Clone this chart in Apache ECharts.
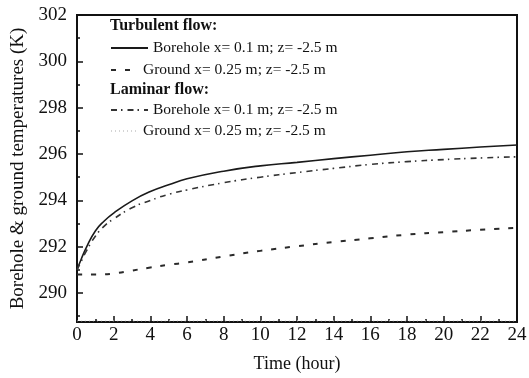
<!DOCTYPE html>
<html><head><meta charset="utf-8">
<script src="https://cdn.jsdelivr.net/npm/echarts@6/dist/echarts.min.js"></script>
<style>html,body{margin:0;padding:0;background:#fff}#c{width:529px;height:378px}</style>
</head><body><div id="c"></div>
<script>
const times = [0, 0.25, 0.5, 1, 1.5, 2, 3, 4, 5, 6, 8, 10, 12, 14, 16, 18, 20, 22, 24];
const turbBorehole = [291.0, 291.5, 291.95, 292.68, 293.12, 293.45, 293.98, 294.38, 294.67, 294.93, 295.26, 295.49, 295.64, 295.8, 295.95, 296.1, 296.2, 296.3, 296.39];
const turbGround = [290.8, 290.8, 290.8, 290.8, 290.81, 290.84, 290.97, 291.1, 291.22, 291.32, 291.58, 291.82, 292.02, 292.2, 292.36, 292.52, 292.63, 292.73, 292.82];
const lamBorehole = [291.0, 291.4, 291.8, 292.45, 292.9, 293.2, 293.68, 294.0, 294.26, 294.45, 294.76, 295.0, 295.2, 295.38, 295.55, 295.67, 295.76, 295.83, 295.88];
const lamGround = [288.8, 288.8, 288.8, 288.8, 288.8, 288.8, 288.8, 288.8, 288.8, 288.8, 288.8, 288.8, 288.8, 288.8, 288.8, 288.8, 288.8, 288.8, 288.8];
const yMajorTicks = [290, 292, 294, 296, 298, 300, 302];
const yMinorTicks = [289, 291, 293, 295, 297, 299, 301];
const seriesNames = ['Borehole x= 0.1 m; z= -2.5 m ', 'Ground x= 0.25 m; z= -2.5 m ', 'Borehole x= 0.1 m; z= -2.5 m', 'Ground x= 0.25 m; z= -2.5 m'];
const headers = ['Turbulent flow:', 'Laminar flow:'];

const pair = arr => times.map((t, i) => [t, arr[i]]);
const font = 'Liberation Serif';
const chart = echarts.init(document.getElementById('c'), null, {renderer: 'canvas'});
const legendText = {fontFamily: font, fontSize: 15.5, color: '#111'};
function mkLegend(name, left, top, w) {
  return {data: [name], left: left, top: top, orient: 'vertical', itemWidth: w, itemHeight: 10,
    itemGap: 0, padding: 0, textStyle: legendText, selectedMode: false,
    itemStyle: {opacity: 0}};
}
const yMin = 288.75, yMax = 302;
const common = {type: 'line', smooth: 0.5, symbol: 'none'};
chart.setOption({
  animation: false,
  grid: {left: 77, right: 12, top: 15, bottom: 56, outerBoundsMode: 'none', containLabel: false,
    show: true, borderColor: '#111', borderWidth: 2, backgroundColor: 'transparent'},
  legend: [
    mkLegend(seriesNames[0], 110, 40, 37),
    mkLegend(seriesNames[1], 110, 62, 27),
    mkLegend(seriesNames[2], 110, 102, 37),
    mkLegend(seriesNames[3], 110, 123, 27)
  ],
  graphic: [
    {type: 'text', left: 110, top: 18, style: {text: headers[0], font: 'bold 16px "Liberation Serif"', fill: '#111'}},
    {type: 'text', left: 110, top: 82, style: {text: headers[1], font: 'bold 16px "Liberation Serif"', fill: '#111'}}
  ],
  xAxis: {
    type: 'value', min: 0, max: 24, interval: 2,
    name: 'Time (hour)', nameLocation: 'middle', nameGap: 33,
    nameTextStyle: {fontFamily: font, fontSize: 18, color: '#111'},
    axisLine: {lineStyle: {color: '#111', width: 2}},
    axisTick: {inside: true, length: 6, lineStyle: {color: '#111', width: 1.5}},
    minorTick: {show: true, splitNumber: 2, length: 3, lineStyle: {color: '#111', width: 1.5}},
    axisLabel: {fontFamily: font, fontSize: 19, color: '#111', margin: 4},
    splitLine: {show: false}
  },
  yAxis: [{
    type: 'value', min: yMin, max: yMax,
    name: 'Borehole & ground temperatures (K)', nameLocation: 'middle', nameGap: 48,
    nameTextStyle: {fontFamily: font, fontSize: 19, color: '#111'},
    axisLine: {lineStyle: {color: '#111', width: 2}},
    axisTick: {inside: true, length: 6, customValues: yMajorTicks, lineStyle: {color: '#111', width: 1.5}},
    axisLabel: {fontFamily: font, fontSize: 19, color: '#111', margin: 10, customValues: yMajorTicks},
    splitLine: {show: false}
  }, {
    type: 'value', min: yMin, max: yMax, position: 'left',
    axisLine: {show: false},
    axisTick: {inside: true, length: 3, customValues: yMinorTicks, lineStyle: {color: '#111', width: 1.5}},
    axisLabel: {show: false},
    splitLine: {show: false}
  }],
  series: [
    Object.assign({name: seriesNames[0], data: pair(turbBorehole),
      lineStyle: {color: '#1a1a1a', width: 1.6, type: 'solid'}, itemStyle: {color: '#1a1a1a'}}, common),
    Object.assign({name: seriesNames[1], data: pair(turbGround),
      lineStyle: {color: '#2a2a2a', width: 2, type: [5, 9]}, itemStyle: {color: '#2a2a2a'}}, common),
    Object.assign({name: seriesNames[2], data: pair(lamBorehole),
      lineStyle: {color: '#333', width: 1.6, type: [6, 4, 1.5, 5]}, itemStyle: {color: '#333'}}, common),
    Object.assign({name: seriesNames[3], data: pair(lamGround),
      lineStyle: {color: '#d4d4d4', width: 1, type: [1, 3]}, itemStyle: {color: '#d4d4d4'}}, common)
  ]
});
</script></body></html>
